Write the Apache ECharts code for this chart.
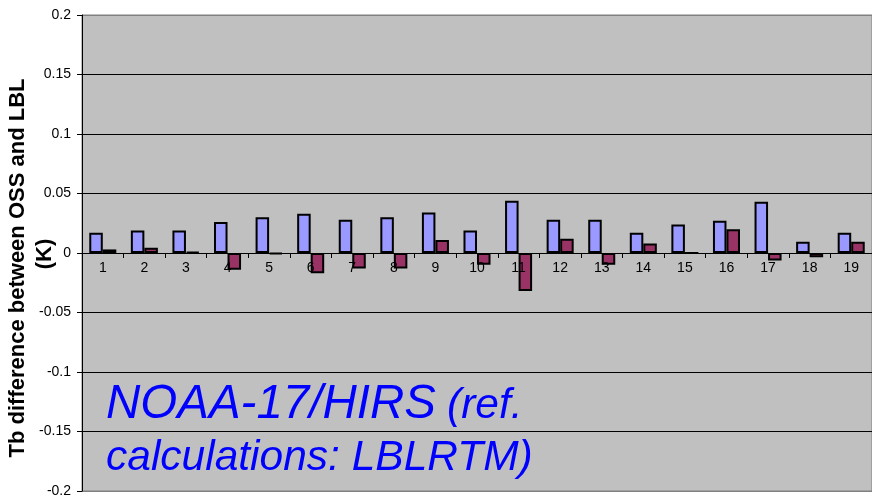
<!DOCTYPE html>
<html><head><meta charset="utf-8">
<script src="https://cdn.jsdelivr.net/npm/echarts@6/dist/echarts.min.js"></script>
<style>html,body{margin:0;padding:0;background:#fff}#c{width:872px;height:498px}</style>
</head><body><div id="c"></div>
<script>
const categories = ['1','2','3','4','5','6','7','8','9','10','11','12','13','14','15','16','17','18','19'];
const seriesA = [0.017,0.019,0.019,0.026,0.030,0.033,0.028,0.030,0.034,0.019,0.044,0.028,0.028,0.017,0.024,0.027,0.043,0.0095,0.017];
const seriesB = [0.003,0.0045,0.001,-0.014,-0.001,-0.017,-0.013,-0.013,0.011,-0.0098,-0.032,0.012,-0.0098,0.008,0,0.020,-0.0064,-0.0036,0.0095];
const yTitle = 'Tb difference between OSS and LBL';
const yTitle2 = '(K)';
const note1a = 'NOAA-17/HIRS';
const note1b = '(ref.';
const note2 = 'calculations: LBLRTM)';

const chart = echarts.init(document.getElementById('c'), null, {renderer:'canvas'});
const F = 'Liberation Sans, Arial, sans-serif';
chart.setOption({
  animation:false,
  backgroundColor:'#fff',
  grid:{left:82, top:15, right:0, bottom:7, outerBoundsMode:'none', containLabel:false, show:true, backgroundColor:'#C0C0C0', borderColor:'#808080', borderWidth:1},
  xAxis:{type:'category', data:categories, position:'bottom', offset:-238, z:5,
    axisLine:{onZero:false, lineStyle:{color:'#000', width:1}},
    axisTick:{show:true, inside:false, length:5, lineStyle:{color:'#000'}},
    axisLabel:{color:'#000', fontFamily:F, fontSize:14, margin:8},
    splitLine:{show:false}},
  yAxis:{type:'value', min:-0.2, max:0.2, interval:0.05,
    axisLine:{show:true, lineStyle:{color:'#000'}},
    axisTick:{show:true, length:5, lineStyle:{color:'#000'}},
    axisLabel:{color:'#000', fontFamily:F, fontSize:14, margin:11,
      formatter:v=>{const r=Math.round(v*100)/100; return String(r);}},
    splitLine:{show:true, lineStyle:{color:['#808080','#000','#000','#000','#000','#000','#000','#000','#808080'], width:1}}},
  series:[
    {type:'bar', data:seriesA, barGap:'0%', barCategoryGap:'35%',
      itemStyle:{color:'#9999FF', borderColor:'#000', borderWidth:2}},
    {type:'bar', data:seriesB,
      itemStyle:{color:'#993366', borderColor:'#000', borderWidth:2}}
  ],
  graphic:[
    {type:'text', x:18, y:268, rotation:Math.PI/2, style:{text:yTitle, font:'bold 22px '+F, fill:'#000', textAlign:'center', textVerticalAlign:'middle'}},
    {type:'text', x:45, y:254, rotation:Math.PI/2, style:{text:yTitle2, font:'bold 22px '+F, fill:'#000', textAlign:'center', textVerticalAlign:'middle'}},
    {type:'text', left:106, top:381, style:{text:note1a, font:'italic 47.5px '+F, fill:'#0000FF'}},
    {type:'text', left:447, top:385, style:{text:note1b, font:'italic 42.5px '+F, fill:'#0000FF'}},
    {type:'text', left:106, top:437, style:{text:note2, font:'italic 42.5px '+F, fill:'#0000FF'}}
  ]
});
</script></body></html>
